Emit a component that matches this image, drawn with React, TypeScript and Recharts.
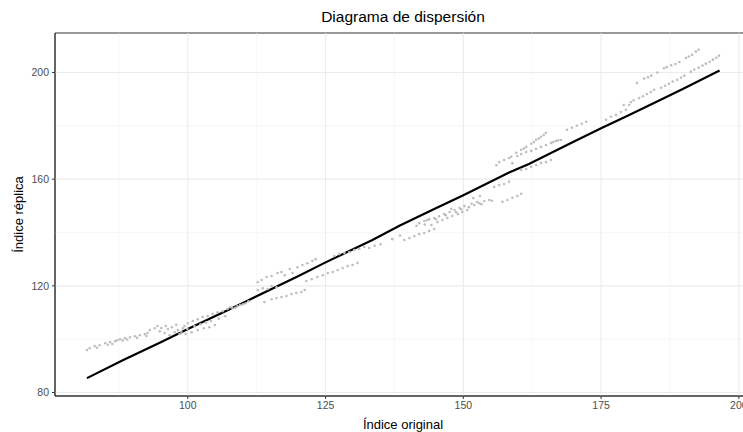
import {
  ComposedChart,
  Scatter,
  Line,
  XAxis,
  YAxis,
  ReferenceLine,
  ReferenceArea,
  Label,
} from "recharts";

const xTicks = [100, 125, 150, 175, 200];
const yTicks = [80, 120, 160, 200];
const xMinor = [87.5, 112.5, 137.5, 162.5, 187.5];
const yMinor = [100, 140, 180];
const xDomain: [number, number] = [75.9, 202.2];
const yDomain: [number, number] = [78.7, 214.8];

// grey points, [original, replica]
const lowBand: [number, number][] = [
  [81.7, 95.9], [82.2, 96.6], [83.1, 97.4], [84.0, 97.7], [85.0, 98.5], [85.9, 98.9],
  [86.8, 99.2], [87.7, 100.0], [88.6, 100.4], [89.5, 100.7], [90.4, 101.1], [91.3, 101.5],
  [92.2, 101.9], [92.7, 102.3], [83.5, 96.8], [85.5, 97.9], [87.2, 99.6], [89.0, 99.9],
  [90.8, 100.5], [92.5, 101.2], [86.3, 98.2], [88.2, 99.5],
];
const cluster100: [number, number][] = [
  [93.1, 103.4], [94.0, 104.1], [94.5, 104.9], [94.9, 103.0], [95.8, 102.3], [96.4, 103.8],
  [96.7, 101.5], [97.1, 104.5], [97.6, 102.6], [98.2, 103.4], [98.5, 101.9], [99.1, 104.1],
  [99.4, 104.9], [99.6, 101.9], [100.7, 102.6], [101.8, 103.4], [102.9, 104.1], [103.9, 104.5],
  [104.9, 105.3], [95.2, 104.2], [96.0, 105.0], [97.9, 105.4], [98.8, 102.8], [99.9, 103.9],
  [101.2, 104.9], [102.3, 105.6], [103.3, 106.3], [104.2, 106.8], [105.6, 107.7], [106.8, 108.6],
];
const band105: [number, number][] = [
  [100.0, 106.0], [100.9, 106.8], [101.8, 107.5], [102.7, 108.3], [103.6, 108.7], [104.5, 109.4],
  [105.4, 110.1], [106.3, 110.5], [107.2, 111.3], [108.1, 111.6], [109.0, 112.4], [110.0, 113.1],
  [107.7, 112.0], [108.6, 111.8], [109.5, 112.8], [110.5, 113.5], [111.0, 114.2],
];
const band115: [number, number][] = [
  [112.7, 121.4], [113.4, 122.2], [114.3, 123.3], [115.2, 123.7], [116.3, 124.8], [117.0, 125.2],
  [117.6, 124.0], [118.5, 126.3], [119.0, 124.8], [119.9, 127.0], [120.8, 127.8], [121.7, 128.5],
  [122.6, 129.3], [123.2, 130.0], [112.7, 118.4], [113.6, 119.1], [114.5, 118.8], [115.2, 119.9],
  [116.1, 119.5],
];
const lowBand115: [number, number][] = [
  [113.9, 113.9], [115.2, 115.0], [116.1, 115.4], [117.0, 115.8], [117.9, 116.2], [118.8, 116.9],
  [119.7, 117.3], [120.6, 117.7], [121.2, 118.4],
];
const band125: [number, number][] = [
  [121.5, 121.8], [122.5, 122.5], [123.5, 123.3], [124.5, 124.0], [125.4, 124.8], [126.3, 125.2],
  [127.2, 125.9], [128.1, 126.7], [129.0, 127.4], [129.9, 127.8], [130.8, 128.6],
  [126.6, 131.2], [127.5, 131.9], [128.4, 132.3], [129.3, 132.7], [130.2, 133.4], [131.1, 133.8],
  [132.0, 134.6], [132.9, 134.2], [133.9, 135.0], [135.0, 135.6], [137.1, 137.5], [138.5, 138.9],
];
const cluster145: [number, number][] = [
  [139.3, 137.2], [140.2, 137.9], [141.1, 138.7], [142.0, 139.4], [142.9, 139.8], [143.8, 140.6],
  [144.7, 141.3], [142.0, 143.5], [142.9, 144.3], [143.8, 145.0], [144.2, 142.8], [144.7, 145.4],
  [145.3, 143.9], [145.6, 146.1], [146.2, 144.7], [146.5, 146.9], [147.1, 145.4], [147.5, 147.7],
  [148.0, 146.2], [148.4, 148.4], [149.0, 146.9], [149.3, 149.2], [149.8, 147.7], [150.2, 149.9],
  [150.7, 148.4], [151.0, 149.5], [152.0, 150.3], [152.9, 151.0], [153.8, 151.8], [154.7, 152.2],
  [143.0, 143.0], [145.0, 145.0], [146.8, 146.5], [148.7, 147.6], [149.6, 148.7], [151.5, 150.8],
  [152.5, 151.4], [141.5, 142.5], [143.4, 144.6], [153.3, 150.6], [155.2, 151.9], [147.8, 148.9],
  [151.8, 152.9], [153.0, 153.7],
];
const band158: [number, number][] = [
  [157.1, 151.5], [158.0, 152.2], [158.9, 153.0], [159.8, 153.7], [160.5, 154.5],
  [155.6, 157.1], [156.5, 157.8], [157.4, 158.2], [158.3, 159.0],
  [156.0, 165.2], [156.5, 166.4], [157.4, 167.2], [158.3, 167.9], [158.9, 166.0], [159.8, 168.7],
  [160.5, 169.4], [161.4, 170.2],
];
const band165: [number, number][] = [
  [158.7, 168.4], [159.6, 169.9], [160.5, 171.0], [161.4, 172.1], [162.3, 173.3], [163.2, 174.8],
  [164.1, 175.9], [165.0, 177.4], [162.3, 170.6], [163.2, 171.3], [164.1, 172.1], [165.0, 172.8],
  [165.9, 173.6], [166.8, 174.3], [167.7, 174.7], [160.5, 163.5], [161.4, 163.8], [162.3, 164.6],
  [163.2, 165.3], [164.1, 166.1], [165.0, 166.4], [165.9, 167.2], [161.0, 171.5], [162.8, 173.9],
  [163.7, 175.2], [164.6, 176.6], [166.3, 173.9], [167.2, 174.6],
];
const band175: [number, number][] = [
  [168.8, 178.5], [169.7, 179.3], [170.6, 180.0], [171.5, 180.8], [172.3, 181.5],
  [175.9, 182.3], [176.8, 183.4], [177.7, 184.1], [178.6, 185.2], [179.5, 186.0], [180.1, 187.8],
];
const band190: [number, number][] = [
  [179.1, 187.8], [180.4, 188.9], [181.9, 190.4], [183.3, 191.9], [184.6, 193.5], [185.9, 194.3],
  [187.3, 195.8], [188.8, 197.3], [190.1, 198.8], [191.3, 200.3], [192.7, 201.8], [194.0, 203.3],
  [195.3, 204.8], [196.4, 206.3], [180.9, 189.6], [182.6, 191.1], [184.0, 192.7], [186.6, 195.0],
  [188.0, 196.6], [189.5, 198.1], [191.9, 201.1], [193.4, 202.6], [194.7, 204.0], [195.9, 205.5],
];
const topBand: [number, number][] = [
  [181.5, 196.1], [182.8, 197.7], [184.1, 198.8], [185.2, 200.0], [186.4, 201.6], [187.7, 202.7],
  [189.2, 203.9], [190.4, 205.4], [191.5, 206.6], [192.2, 207.8], [192.7, 208.5],
  [183.5, 198.2], [186.9, 202.0], [188.5, 203.2], [190.9, 206.0],
];

// black line
const fitX = [81.7, 88.2, 95, 100, 110, 120, 125, 133.5, 138.4, 145, 150, 158.3, 161.9, 170, 175, 180.1, 186, 190, 196.5];
const fitY = [85.4, 92.1, 98.8, 103.8, 113.6, 123.6, 128.8, 137.2, 142.5, 149.1, 154.0, 162.5, 165.7, 174.0, 179.1, 184.1, 190.0, 194.0, 200.7];

const greyData = [
  ...lowBand, ...cluster100, ...band105, ...band115, ...lowBand115, ...band125,
  ...cluster145, ...band158, ...band165, ...band175, ...band190, ...topBand,
].map(([x, y]) => ({ x, y }));
const fitData = fitX.map((x, i) => ({ x, y: fitY[i] }));

const font = "'Liberation Sans', Arial, sans-serif";

const App = () => {
  return (
    <div
      style={{
        position: "absolute",
        left: 0,
        top: 0,
        width: 743,
        height: 432,
        overflow: "hidden",
        background: "#fff",
        fontFamily: font,
      }}
    >
      <div
        style={{
          position: "absolute",
          left: 55,
          width: 696,
          top: 8,
          textAlign: "center",
          fontSize: 15.5,
          color: "#000",
        }}
      >
        Diagrama de dispersión
      </div>
      <ComposedChart
        width={752}
        height={432}
        margin={{ top: 33, right: 1, bottom: 0, left: 0 }}
      >
        {xMinor.map((v) => (
          <ReferenceLine key={"xm" + v} x={v} stroke="#F4F4F4" strokeWidth={0.6} />
        ))}
        {yMinor.map((v) => (
          <ReferenceLine key={"ym" + v} y={v} stroke="#F4F4F4" strokeWidth={0.6} />
        ))}
        {xTicks.map((v) => (
          <ReferenceLine key={"xM" + v} x={v} stroke="#EBEBEB" strokeWidth={1.1} />
        ))}
        {yTicks.map((v) => (
          <ReferenceLine key={"yM" + v} y={v} stroke="#EBEBEB" strokeWidth={1.1} />
        ))}
        <XAxis
          type="number"
          dataKey="x"
          domain={xDomain}
          ticks={xTicks}
          allowDataOverflow
          height={36}
          tickSize={3}
          tickMargin={3}
          axisLine={{ stroke: "#333" }}
          tickLine={{ stroke: "#333" }}
          tick={{ fill: "#4D4D4D", fontSize: 10.5, fontFamily: font }}
        >
          <Label
            value="Índice original"
            position="insideBottom"
            offset={3}
            style={{ fill: "#000", fontSize: 13, fontFamily: font }}
          />
        </XAxis>
        <YAxis
          type="number"
          dataKey="y"
          domain={yDomain}
          ticks={yTicks}
          allowDataOverflow
          width={55}
          tickSize={3}
          tickMargin={3}
          axisLine={{ stroke: "#333" }}
          tickLine={{ stroke: "#333" }}
          tick={{ fill: "#4D4D4D", fontSize: 10.5, fontFamily: font }}
        >
          <Label
            value="Índice réplica"
            angle={-90}
            position="insideLeft"
            offset={18}
            style={{ fill: "#000", fontSize: 13, fontFamily: font, textAnchor: "middle" }}
          />
        </YAxis>
        <Scatter
          data={greyData}
          dataKey="y"
          isAnimationActive={false}
          shape={(p: any) => <circle cx={p.cx} cy={p.cy} r={1.3} fill="#BEBEBE" />}
        />
        <Line
          data={fitData}
          dataKey="y"
          type="linear"
          stroke="#000"
          strokeWidth={2.2}
          dot={false}
          isAnimationActive={false}
        />
        <ReferenceArea
          x1={xDomain[0]}
          x2={xDomain[1]}
          y1={yDomain[0]}
          y2={yDomain[1]}
          fill="none"
          stroke="#333"
          strokeWidth={1}
        />
      </ComposedChart>
    </div>
  );
};

export default App;
